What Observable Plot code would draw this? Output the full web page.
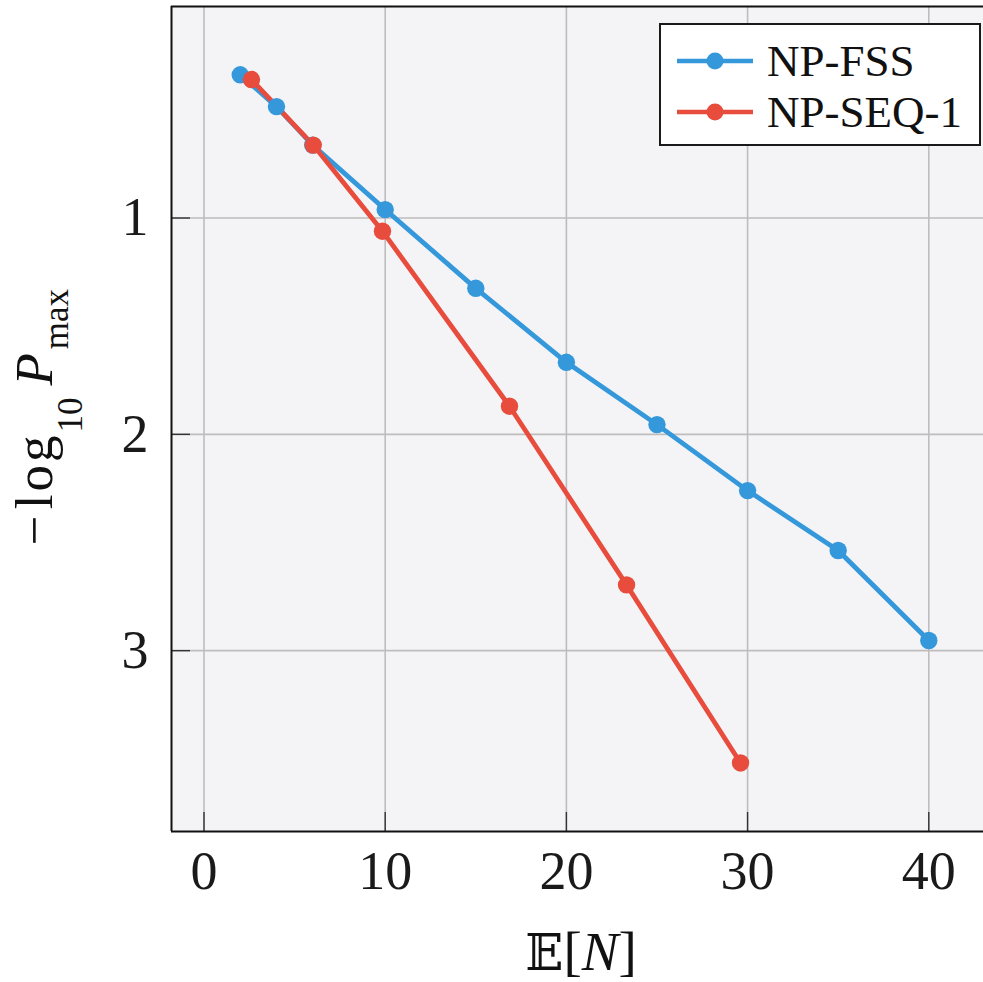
<!DOCTYPE html>
<html><head><meta charset="utf-8">
<script src="https://cdn.jsdelivr.net/npm/d3@7"></script>
<script src="https://cdn.jsdelivr.net/npm/@observablehq/plot@0.6"></script>
<style>
html,body{margin:0;padding:0;background:#fff;overflow:hidden;}
#wrap{position:relative;width:983px;height:982px;}
#legend{position:absolute;left:659px;top:23px;width:318px;height:119px;border:2px solid #1a1a1a;background:#fff;font-family:"Liberation Serif",serif;font-size:45px;color:#111;}
.row{position:absolute;left:0;height:50px;display:flex;align-items:center;}
.row svg{display:block;margin-left:14px;}
.row span{margin-left:12px;line-height:1;}
</style></head><body><div id="wrap"></div>
<script>
// ---- data ----
const seriesNames = ["NP-FSS", "NP-SEQ-1"];
const seriesColors = ["#3498db", "#e74c3c"];
const xTicks = [0, 10, 20, 30, 40];
const yTicks = [1, 2, 3];
const fssX = [2, 4, 6, 10, 15, 20, 25, 30, 35, 40];
const fssY = [0.338, 0.485, 0.663, 0.961, 1.325, 1.667, 1.955, 2.260, 2.537, 2.953];
const seqX = [2.62, 6.03, 9.85, 16.86, 23.32, 29.61];
const seqY = [0.360, 0.663, 1.061, 1.870, 2.696, 3.519];
const xDomain = [-1.794, 43.02];
const yDomain = [0.0222, 3.836];

const rows = [
  ...fssX.map((x, i) => ({s: seriesNames[0], x, y: fssY[i]})),
  ...seqX.map((x, i) => ({s: seriesNames[1], x, y: seqY[i]}))
];

const plot = Plot.plot({
  width: 983, height: 982,
  marginLeft: 171, marginRight: 0, marginTop: 6, marginBottom: 151,
  style: {fontFamily: "'Liberation Serif', serif", fontSize: "54px", color: "#1a1a1a", background: "transparent"},
  x: {domain: xDomain},
  y: {domain: yDomain, reverse: true},
  color: {domain: seriesNames, range: seriesColors},
  marks: [
    Plot.frame({fill: "#f4f4f7", stroke: null}),
    Plot.gridX(xTicks, {stroke: "#bdbdbd", strokeOpacity: 1, strokeWidth: 1.6}),
    Plot.gridY(yTicks, {stroke: "#bdbdbd", strokeOpacity: 1, strokeWidth: 1.6}),
    Plot.axisX(xTicks, {tickSize: 19, dy: -19, tickPadding: 19, label: null, fontSize: 54, strokeWidth: 1.4, stroke: "#333", tickFormat: d => String(d)}),
    Plot.axisY(yTicks, {tickSize: 19, dx: 19, tickPadding: 23, label: null, fontSize: 54, strokeWidth: 1.4, stroke: "#333", tickFormat: d => String(d)}),
    Plot.line(rows, {x: "x", y: "y", z: "s", stroke: "s", strokeWidth: 4.8}),
    Plot.dot(rows, {x: "x", y: "y", fill: "s", r: 8.7}),
    Plot.ruleX([xDomain[0]], {stroke: "#111", strokeWidth: 2}),
    Plot.ruleY([yDomain[0], yDomain[1]], {stroke: "#111", strokeWidth: 2})
  ]
});
document.getElementById("wrap").appendChild(plot);

// axis titles
const svg = d3.select(plot);
const xt = svg.append("text")
  .attr("x", 581).attr("y", 970)
  .attr("text-anchor", "middle")
  .style("font-family", "'Liberation Serif', serif")
  .style("font-size", "55px").attr("fill", "#111");
xt.append("tspan").style("font-family", "'DejaVu Serif', 'DejaVu Sans', serif").style("font-size", "50px").text("𝔼");
xt.append("tspan").text("[");
xt.append("tspan").style("font-style", "italic").text("N");
xt.append("tspan").text("]");

const yt = svg.append("text")
  .attr("transform", "translate(52,417) rotate(-90)")
  .attr("text-anchor", "middle")
  .style("font-family", "'Liberation Serif', serif")
  .style("font-size", "53px").attr("fill", "#111");
yt.append("tspan").text("−");
yt.append("tspan").attr("dx", 6).style("letter-spacing", "3px").text("log");
yt.append("tspan").attr("dy", 30).style("font-size", "35px").text("10");
yt.append("tspan").attr("dx", 12).attr("dy", -30).style("font-style", "italic").text("P");
yt.append("tspan").attr("dx", 4).attr("dy", 16).style("font-size", "35px").text("max");

// legend
const leg = document.createElement("div");
leg.id = "legend";
seriesNames.forEach((name, i) => {
  const r = document.createElement("div");
  r.className = "row";
  r.style.top = (i === 0 ? 11 : 62) + "px";
  r.innerHTML = `<svg width="80" height="20"><line x1="2" y1="10" x2="78" y2="10" stroke="${seriesColors[i]}" stroke-width="4.5"/><circle cx="40" cy="10" r="8.5" fill="${seriesColors[i]}"/></svg><span>${name}</span>`;
  leg.appendChild(r);
});
document.getElementById("wrap").appendChild(leg);
</script>
</body></html>
